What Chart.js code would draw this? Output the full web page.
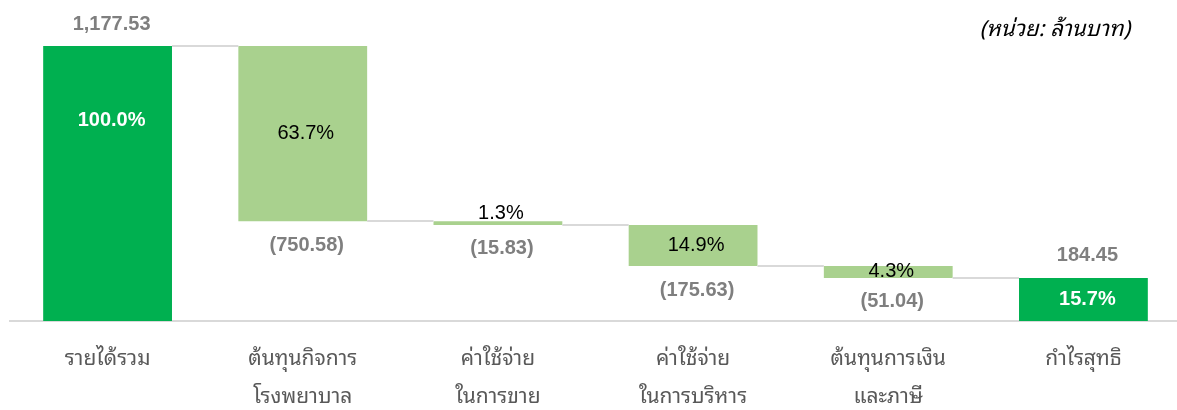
<!DOCTYPE html>
<html>
<head>
<meta charset="utf-8">
<script src="https://cdn.jsdelivr.net/npm/chart.js@4"></script>
<style>
  html, body { margin: 0; padding: 0; background: #fff; overflow: hidden; }
  #wrap { position: relative; width: 1181px; height: 410px; }
</style>
</head>
<body>
<div id="wrap"><canvas id="waterfall"></canvas></div>
<script>
// Waterfall: revenue down to net profit (million baht)
const categories = [
  ['รายได้รวม'],
  ['ต้นทุนกิจการ', 'โรงพยาบาล'],
  ['ค่าใช้จ่าย', 'ในการขาย'],
  ['ค่าใช้จ่าย', 'ในการบริหาร'],
  ['ต้นทุนการเงิน', 'และภาษี'],
  ['กำไรสุทธิ']
];
const amounts = [1177.53, -750.58, -15.83, -175.63, -51.04, 184.45];
const isTotal = [true, false, false, false, false, true];
const valueLabels = ['1,177.53', '(750.58)', '(15.83)', '(175.63)', '(51.04)', '184.45'];
const percentLabels = ['100.0%', '63.7%', '1.3%', '14.9%', '4.3%', '15.7%'];
const unitText = '(หน่วย: ล้านบาท)';

const DARK = '#00b050';
const LIGHT = '#a9d18e';
const GREY_LINE = '#d9d9d9';
const FONT = "Arial, 'Liberation Sans', sans-serif";
const THAI_FONT = "Tahoma, 'Noto Sans Thai Looped', 'Noto Sans Thai', 'Noto Sans', sans-serif";

// build floating ranges from the running total
const ranges = [];
const runningAfter = [];
let running = 0;
amounts.forEach((v, i) => {
  if (isTotal[i]) {
    ranges.push([0, v]);
    running = v;
  } else {
    ranges.push([running + v, running]);
    running = running + v;
  }
  runningAfter.push(running);
});

const waterfallLabels = {
  id: 'waterfallLabels',
  afterDatasetsDraw(chart) {
    const ctx = chart.ctx;
    const meta = chart.getDatasetMeta(0);
    const y = chart.scales.y;
    ctx.save();

    // connectors between bars
    ctx.strokeStyle = GREY_LINE;
    ctx.lineWidth = 2;
    for (let i = 0; i < meta.data.length - 1; i++) {
      const a = meta.data[i], b = meta.data[i + 1];
      const py = Math.round(y.getPixelForValue(runningAfter[i]));
      ctx.beginPath();
      ctx.moveTo(a.x + a.width / 2, py);
      ctx.lineTo(b.x - b.width / 2, py);
      ctx.stroke();
    }

    meta.data.forEach((bar, i) => {
      const top = Math.min(bar.y, bar.base);
      const bottom = Math.max(bar.y, bar.base);
      ctx.textAlign = 'center';
      ctx.textBaseline = 'middle';

      // amount labels
      ctx.fillStyle = '#7f7f7f';
      ctx.font = 'bold 20px ' + FONT;
      if (isTotal[i]) {
        ctx.fillText(valueLabels[i], bar.x + 4, top - 22);
      } else {
        ctx.fillText(valueLabels[i], bar.x + 4, bottom + 24);
      }

      // percent labels
      if (isTotal[i]) {
        ctx.fillStyle = '#ffffff';
        ctx.font = 'bold 20px ' + FONT;
        const py = i === 0 ? top + 74 : (top + bottom) / 2;
        ctx.fillText(percentLabels[i], bar.x + 4, py);
      } else {
        ctx.fillStyle = '#000000';
        ctx.font = '20px ' + FONT;
        let py = (top + bottom) / 2;
        if (bottom - top < 8) py = top - 8;
        ctx.fillText(percentLabels[i], bar.x + 3, py);
      }
    });

    // unit note
    ctx.fillStyle = '#000000';
    ctx.font = 'italic 22px ' + THAI_FONT;
    ctx.textAlign = 'right';
    ctx.fillText(unitText, 1130, 30);
    ctx.restore();
  }
};

new Chart(document.getElementById('waterfall'), {
  type: 'bar',
  data: {
    labels: categories,
    datasets: [{
      data: ranges,
      backgroundColor: isTotal.map(t => t ? DARK : LIGHT),
      borderWidth: 0,
      borderSkipped: false,
      categoryPercentage: 1,
      barPercentage: 0.66
    }]
  },
  options: {
    responsive: true,
    maintainAspectRatio: false,
    animation: false,
    layout: { padding: { top: 46, left: 10, right: 0, bottom: -25 } },
    plugins: {
      legend: { display: false },
      tooltip: { enabled: false }
    },
    scales: {
      x: {
        grid: { display: false, drawTicks: false },
        border: { display: true, color: GREY_LINE, width: 2 },
        ticks: {
          color: '#595959',
          padding: 19,
          font: { size: 21, family: THAI_FONT, lineHeight: 1.81 }
        }
      },
      y: {
        display: false,
        min: 0,
        max: 1177.53
      }
    }
  },
  plugins: [waterfallLabels]
});
</script>
</body>
</html>
